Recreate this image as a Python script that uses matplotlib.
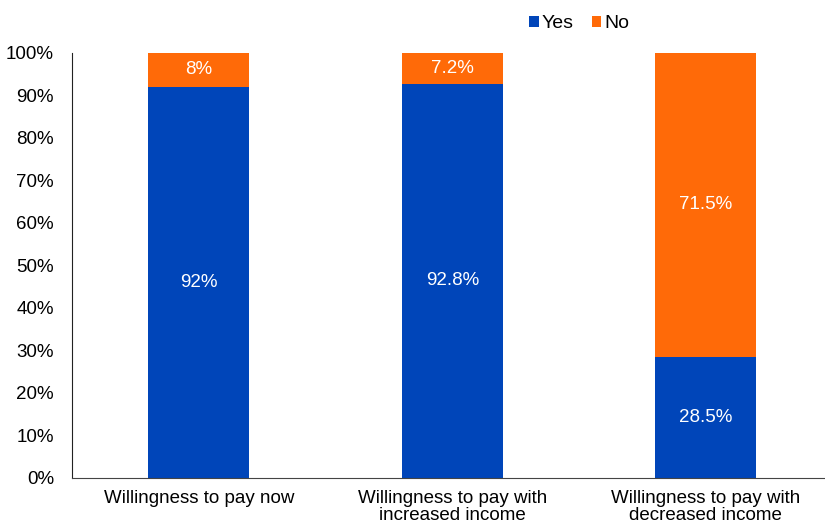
import matplotlib.pyplot as plt
import matplotlib.ticker as ticker

plt.rcParams['font.family'] = ['Liberation Sans', 'DejaVu Sans']

# data
categories = ['Willingness to pay now',
              'Willingness to pay with\nincreased income',
              'Willingness to pay with\ndecreased income']
yes = [92, 92.8, 28.5]
no = [8, 7.2, 71.5]
yes_labels = ['92%', '92.8%', '28.5%']
no_labels = ['8%', '7.2%', '71.5%']

blue = '#0045B9'
orange = '#FF6A08'

fig = plt.figure(figsize=(8.25, 5.22), dpi=100)
ax = fig.add_axes([0.0873, 0.0843, 0.9218, 0.8142])

x = range(len(categories))
b1 = ax.bar(x, yes, width=0.4, color=blue, label='Yes')
b2 = ax.bar(x, no, width=0.4, bottom=yes, color=orange, label='No')

ax.bar_label(b1, labels=yes_labels, label_type='center', color='white', fontsize=13.5)
ax.bar_label(b2, labels=no_labels, label_type='center', color='white', fontsize=13.5)

ax.set_xlim(-0.5, 2.5)
ax.set_ylim(0, 100)
ax.yaxis.set_major_locator(ticker.MultipleLocator(10))
ax.yaxis.set_major_formatter(ticker.FuncFormatter(lambda v, p: f'{int(v)}%'))
ax.set_xticks(list(x))
ax.set_xticklabels(categories, fontsize=13.5, linespacing=0.95)
ax.tick_params(axis='y', labelsize=13.5, length=0, pad=13)
ax.tick_params(axis='x', length=0, pad=9)

for s in ['top', 'right']:
    ax.spines[s].set_visible(False)
ax.spines['left'].set_color('#222222')
ax.spines['bottom'].set_color('#444444')

ax.legend(loc='upper center', bbox_to_anchor=(0.667, 1.13), ncol=2, frameon=False,
          fontsize=14, handlelength=0.5, handleheight=0.5, handletextpad=0.15,
          columnspacing=0.9)

plt.savefig('out.png', dpi=100)
plt.close()
